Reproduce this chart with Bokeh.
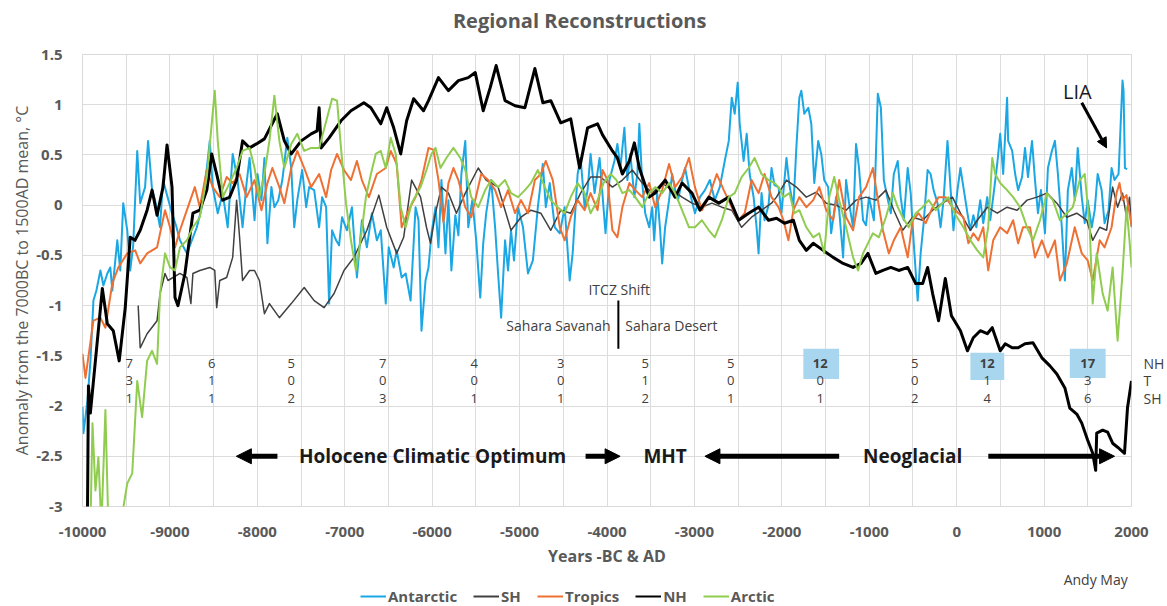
from bokeh.plotting import figure
from bokeh.layouts import column
from bokeh.models import (Range1d, FixedTicker, Label, Arrow, NormalHead, BoxAnnotation,
                          Legend, LegendItem, LinearAxis)
from bokeh.embed import file_html
from bokeh.resources import INLINE

# ---------------- data ----------------
antarctic_x = [-10000, -9989, -9943, -9909, -9875, -9841, -9818, -9795, -9761, -9716, -9682, -9659, -9602, -9568,
               -9534, -9488, -9454, -9420, -9374, -9340, -9284, -9250, -9204, -9170, -9113, -9079, -9033, -8976,
               -8931, -8885, -8806, -8749, -8692, -8635, -8578, -8544, -8510, -8453, -8396, -8339, -8282, -8226,
               -8169, -8123, -8089, -8032, -7998, -7953, -7919, -7885, -7839, -7805, -7760, -7714, -7657, -7612,
               -7578, -7543, -7487, -7441, -7407, -7350, -7293, -7259, -7213, -7179, -7145, -7099, -7065, -7031,
               -6975, -6918, -6861, -6804, -6747, -6690, -6633, -6588, -6531, -6497, -6440, -6406, -6349, -6303,
               -6247, -6190, -6156, -6122, -6076, -6042, -6008, -5962, -5928, -5894, -5848, -5814, -5780, -5735,
               -5700, -5666, -5621, -5587, -5541, -5496, -5450, -5416, -5382, -5325, -5280, -5246, -5211, -5166,
               -5132, -5098, -5064, -5018, -4961, -4904, -4848, -4791, -4734, -4700, -4655, -4597, -4540, -4484,
               -4427, -4393, -4336, -4302, -4256, -4222, -4188, -4142, -4085, -4051, -4017, -3972, -3915, -3881,
               -3847, -3801, -3767, -3733, -3687, -3653, -3630, -3597, -3563, -3517, -3483, -3460, -3426, -3392,
               -3369, -3335, -3290, -3255, -3221, -3187, -3141, -3107, -3051, -2994, -2937, -2880, -2823, -2767,
               -2710, -2653, -2607, -2573, -2539, -2505, -2482, -2437, -2402, -2368, -2323, -2289, -2266, -2232,
               -2198, -2152, -2118, -2084, -2038, -2004, -1947, -1913, -1868, -1834, -1800, -1777, -1743, -1697,
               -1663, -1629, -1584, -1549, -1515, -1470, -1436, -1379, -1344, -1299, -1265, -1231, -1185, -1151,
               -1117, -1071, -1037, -1003, -947, -902, -867, -833, -787, -753, -719, -674, -640, -605, -560, -526,
               -491, -446, -412, -378, -332, -298, -264, -219, -184, -150, -105, -71, -37, 9, 43, 77, 123, 157, 191,
               225, 270, 304, 350, 384, 418, 464, 498, 532, 577, 589, 635, 669, 703, 748, 782, 816, 862, 896, 930,
               964, 1010, 1044, 1089, 1124, 1158, 1203, 1238, 1272, 1317, 1351, 1385, 1431, 1465, 1499, 1545, 1579,
               1613, 1658, 1692, 1738, 1772, 1806, 1852, 1897, 1909, 1925, 1950]
antarctic_y = [-2.01, -2.27, -1.94, -1.55, -0.95, -0.85, -0.75, -0.65, -0.80, -0.68, -0.62, -0.85, -0.35, -0.65,
               0.02, -0.25, -0.65, -0.40, 0.54, 0.02, 0.18, 0.64, 0.15, 0.05, -0.22, 0.25, 0.10, -0.08,
               -0.20, -0.35, -0.48, -0.35, -0.22, -0.02, 0.37, 0.64, 0.18, -0.08, 0.12, -0.22, 0.51, 0.25,
               -0.22, 0.22, 0.47, -0.15, 0.31, 0.05, 0.47, -0.38, 0.18, -0.02, 0.05, 0.25, 0.67, 0.37,
               -0.22, 0.05, 0.35, -0.02, 0.18, 0.15, -0.22, 0.08, -0.02, -0.98, -0.25, -0.35, -0.40, -0.12,
               -0.25, -0.02, -0.72, -0.15, -0.42, -0.08, -0.35, -0.25, -0.98, -0.42, -0.62, -0.45, -0.72, -0.68,
               -0.95, -0.02, -0.15, -1.25, -0.75, -0.62, -0.28, -0.02, -0.42, 0.25, -0.48, 0.05, -0.65, -0.10,
               -0.30, 0.31, 0.64, -0.22, 0.05, -0.35, -0.92, -0.38, -0.08, 0.25, -0.22, -0.68, -1.12, -0.35,
               -0.65, -0.25, -0.55, -0.02, -0.22, -0.68, -0.55, -0.02, 0.41, -0.02, 0.22, -0.22, -0.28, -0.02,
               -0.75, -0.48, 0.31, 0.47, -0.02, 0.15, 0.51, 0.12, 0.47, 0.10, -0.28, 0.25, 0.44, 0.61,
               0.37, 0.77, 0.25, 0.51, 0.08, 0.31, 0.81, 0.22, -0.08, -0.22, -0.02, -0.35, 0.12, -0.25,
               -0.58, -0.22, 0.05, 0.31, 0.15, 0.05, 0.25, 0.37, 0.12, -0.08, 0.08, 0.15, 0.25, 0.05,
               0.18, 0.44, 0.64, 1.07, 0.91, 1.22, 0.81, 0.44, 0.71, 0.31, 0.08, -0.22, -0.48, 0.12,
               -0.15, 0.00, 0.37, 0.20, 0.18, -0.08, 0.47, 0.20, -0.02, 0.57, 1.07, 1.14, 0.91, 0.97,
               0.81, 0.22, 0.64, 0.51, 0.25, 0.18, -0.28, 0.08, -0.05, -0.52, 0.25, 0.02, -0.22, 0.61,
               0.37, -0.15, -0.20, 0.08, -0.15, 1.11, 0.97, 0.25, 0.05, -0.08, 0.31, 0.44, 0.08, -0.15, 0.37, 0.12,
               -0.38, -0.95, -0.48, -0.18, 0.35, 0.31, 0.15, 0.02, -0.22, 0.05, 0.64, 0.18, -0.25, 0.15, 0.37, 0.18,
               -0.08, -0.25, -0.10, -0.22, 0.05, -0.18, 0.08, -0.15, 0.08, 0.41, 0.71, 0.31, 1.07, 0.64, 0.54, 0.31,
               0.15, 0.28, 0.57, 0.28, 0.64, 0.25, -0.08, 0.15, -0.28, 0.37, 0.54, 0.64, 0.31, -0.22, -0.75, 0.15,
               0.37, 0.05, 0.57, 0.08, -0.18, 0.05, -0.22, -0.05, 0.31, 0.15, -0.18, -0.05, 0.37, 0.25, 0.31, 1.24,
               1.14, 0.37, 0.36]

sh_x = [-9363, -9340, -9261, -9147, -9113, -9056, -9022, -8885, -8806, -8760, -8737, -8658, -8544, -8487, -8465,
        -8430, -8351, -8282, -8237, -8203, -8169, -8089, -8032, -7976, -7919, -7862, -7748, -7612, -7464, -7350,
        -7236, -7122, -7009, -6895, -6747, -6610, -6520, -6406, -6326, -6235, -6133, -6065, -6019, -5962, -5894,
        -5814, -5723, -5621, -5473, -5382, -5246, -5098, -4984, -4870, -4757, -4643, -4529, -4415, -4302, -4188,
        -4074, -3938, -3824, -3710, -3597, -3483, -3369, -3255, -3141, -3028, -2914, -2800, -2687, -2573, -2460,
        -2346, -2232, -2118, -2061, -1947, -1834, -1720, -1606, -1492, -1379, -1265, -1151, -1037, -924, -810,
        -719, -617, -503, -389, -275, -162, -48, 43, 157, 236, 350, 464, 577, 691, 805, 919, 1033, 1146, 1260,
        1374, 1488, 1556, 1636, 1715, 1784, 1841, 1897, 1943, 1977, 2000]
sh_y = [-1.00, -1.42, -1.28, -1.15, -0.88, -0.68, -0.75, -0.68, -0.72, -0.98, -0.68, -0.65, -0.62, -0.65, -1.02,
        -0.75, -0.72, -0.52, 0.05, -0.32, -0.75, -0.65, -0.65, -0.75, -1.08, -0.98, -1.12, -0.98, -0.82, -0.95,
        -1.02, -0.88, -0.65, -0.52, -0.25, 0.10, -0.22, -0.48, -0.32, 0.25, 0.08, -0.22, -0.38, -0.08, 0.18,
        0.12, -0.08, 0.12, 0.37, 0.25, 0.18, -0.25, -0.12, -0.05, -0.08, -0.25, -0.05, -0.08, 0.12, 0.28,
        0.28, 0.18, 0.25, 0.35, 0.22, 0.12, 0.22, 0.15, 0.08, 0.02, -0.02, 0.02, -0.02, -0.05, -0.22,
        -0.12, -0.05, 0.02, 0.08, 0.25, 0.18, 0.08, 0.13, 0.02, 0.00, -0.05, 0.05, 0.08, 0.05, 0.15,
        -0.05, -0.25, -0.12, -0.15, -0.05, 0.02, 0.08, -0.08, -0.25, -0.15, -0.02, -0.08, -0.02, -0.05, 0.05,
        0.08, 0.12, 0.02, -0.12, -0.08, -0.15, -0.35, -0.22, -0.25, 0.18, -0.02, 0.12, -0.12, 0.08, -0.22]

tropics_x = [-10000, -9966, -9875, -9795, -9738, -9659, -9590, -9488, -9397, -9340, -9261, -9147, -9056, -8999,
             -8942, -8885, -8806, -8715, -8658, -8578, -8510, -8430, -8351, -8282, -8203, -8123, -8032, -7953,
             -7885, -7828, -7748, -7691, -7612, -7543, -7464, -7384, -7293, -7213, -7156, -7088, -7009, -6929,
             -6861, -6804, -6724, -6633, -6531, -6474, -6406, -6349, -6269, -6190, -6122, -6042, -5985, -5928,
             -5871, -5814, -5757, -5700, -5621, -5553, -5439, -5359, -5280, -5212, -5132, -5052, -4984, -4904,
             -4825, -4757, -4700, -4620, -4540, -4484, -4415, -4336, -4256, -4188, -4108, -4051, -3995, -3938,
             -3881, -3824, -3744, -3676, -3597, -3517, -3449, -3369, -3290, -3221, -3141, -3062, -2994, -2914,
             -2835, -2744, -2664, -2573, -2494, -2425, -2346, -2266, -2198, -2118, -2038, -1981, -1925, -1868,
             -1800, -1720, -1641, -1572, -1492, -1413, -1344, -1265, -1185, -1117, -1037, -958, -901, -844, -776,
             -719, -640, -560, -503, -435, -355, -275, -207, -128, -48, 20, 77, 134, 191, 248, 304, 361, 418, 498,
             577, 646, 703, 759, 839, 896, 975, 1044, 1124, 1181, 1260, 1351, 1431, 1499, 1556, 1636, 1692, 1772,
             1829, 1863, 1897, 1943, 1977, 2000]
tropics_y = [-1.48, -1.72, -1.15, -1.12, -1.22, -0.78, -0.62, -0.48, -0.45, -0.58, -0.48, -0.42, -0.05, -0.22,
             -0.42, -0.25, -0.05, 0.18, -0.02, 0.35, 0.18, 0.08, 0.28, 0.22, 0.31, 0.08, 0.25, -0.05,
             0.22, 0.37, 0.18, 0.02, 0.37, 0.54, 0.37, 0.18, 0.31, 0.08, 0.35, 0.51, 0.35, 0.25,
             0.44, 0.25, 0.08, 0.31, 0.37, 0.54, 0.41, -0.22, -0.05, 0.08, 0.25, 0.57, 0.55, 0.25,
             -0.17, 0.22, 0.37, 0.25, -0.02, -0.12, 0.31, 0.25, 0.15, -0.02, 0.15, -0.08, 0.05, -0.08,
             0.25, 0.31, 0.44, 0.25, -0.22, -0.35, -0.12, 0.05, -0.05, 0.12, -0.05, 0.35, 0.25, -0.25,
             -0.32, -0.02, 0.22, 0.15, 0.08, 0.22, -0.02, 0.15, 0.41, 0.18, 0.28, 0.47, 0.18, -0.05,
             0.08, 0.31, 0.15, -0.02, -0.15, -0.08, 0.25, 0.12, 0.31, 0.08, -0.02, -0.15, -0.35, -0.05,
             0.08, -0.02, 0.05, 0.18, -0.05, -0.15, 0.25, -0.12, -0.25, 0.08, 0.18, 0.37, 0.05, -0.25, -0.48,
             -0.35, -0.22, -0.52, -0.15, -0.08, -0.18, -0.02, 0.08, 0.08, -0.02, -0.08, -0.12, -0.38, -0.28, -0.35,
             -0.22, -0.65, -0.35, -0.22, -0.28, -0.15, -0.38, -0.22, -0.22, -0.52, -0.35, -0.52, -0.35, -0.75,
             -0.58, -0.22, -0.48, -0.55, -0.75, -0.35, -0.42, -0.22, 0.12, 0.22, 0.05, 0.10, -0.08, -0.20]

nh_x = [-9945, -9932, -9910, -9773, -9716, -9648, -9580, -9511, -9454, -9400, -9340, -9261, -9204, -9147, -9079,
        -9033, -8976, -8942, -8908, -8828, -8737, -8658, -8578, -8522, -8465, -8396, -8317, -8237, -8169, -8089,
        -8010, -7919, -7771, -7691, -7612, -7498, -7384, -7316, -7293, -7270, -7179, -7043, -6929, -6781, -6701,
        -6588, -6520, -6440, -6360, -6292, -6212, -6099, -6042, -5928, -5814, -5700, -5587, -5507, -5416, -5336,
        -5268, -5166, -5052, -4939, -4825, -4734, -4643, -4529, -4415, -4313, -4222, -4108, -4051, -3938, -3881,
        -3824, -3744, -3687, -3630, -3517, -3449, -3335, -3221, -3141, -3028, -2937, -2835, -2721, -2607, -2494,
        -2380, -2266, -2152, -2061, -1970, -1868, -1800, -1720, -1641, -1527, -1413, -1299, -1185, -1094, -1015,
        -924, -844, -753, -662, -560, -469, -389, -332, -275, -207, -130, -60, 43, 123, 190, 270, 350, 407, 498,
        555, 635, 703, 782, 873, 975, 1067, 1146, 1238, 1294, 1374, 1431, 1499, 1556, 1590, 1602, 1670, 1727,
        1784, 1841, 1920, 1954, 2000]
nh_y = [-3.30, -1.80, -2.07, -0.83, -1.18, -1.25, -1.55, -1.02, -0.32, -0.35, -0.25, -0.05, 0.15, -0.10, 0.18,
        0.60, 0.18, -0.92, -1.00, -0.68, -0.08, -0.05, 0.15, 0.51, 0.31, 0.05, 0.08, 0.25, 0.64, 0.57,
        0.61, 0.66, 0.91, 0.64, 0.51, 0.64, 0.71, 0.74, 0.97, 0.57, 0.67, 0.84, 0.94, 1.02, 0.97,
        0.81, 0.97, 0.77, 0.51, 0.84, 1.06, 0.94, 1.04, 1.27, 1.14, 1.24, 1.27, 1.32, 0.94, 1.17,
        1.39, 1.04, 0.99, 0.97, 1.36, 1.02, 1.04, 0.82, 0.86, 0.37, 0.77, 0.81, 0.70, 0.54, 0.47,
        0.31, 0.44, 0.62, 0.37, 0.08, 0.12, 0.25, 0.08, 0.22, 0.12, -0.05, 0.08, 0.02, 0.08, -0.15,
        -0.08, -0.02, -0.15, -0.13, -0.18, -0.15, -0.35, -0.45, -0.38, -0.45, -0.52, -0.58, -0.62, -0.58, -0.48,
        -0.68, -0.65, -0.62, -0.65, -0.62, -0.78, -0.78, -0.62, -0.88, -1.15, -0.73, -1.10, -1.25, -1.45, -1.32,
        -1.25, -1.28, -1.22, -1.45, -1.38, -1.42, -1.42, -1.38, -1.37, -1.52, -1.60, -1.68, -1.82, -2.02, -2.08,
        -2.17, -2.34, -2.47, -2.64, -2.27, -2.24, -2.26, -2.37, -2.41, -2.47, -2.02, -1.75]

arctic_x = [-9909, -9886, -9852, -9818, -9784, -9738, -9704, -9568, -9488, -9431, -9374, -9318, -9261, -9204, -9147,
            -9113, -9056, -8999, -8942, -8885, -8806, -8737, -8658, -8578, -8522, -8487, -8453, -8396, -8317, -8237,
            -8169, -8089, -8032, -7976, -7919, -7862, -7805, -7748, -7691, -7612, -7543, -7464, -7384, -7293, -7202,
            -7145, -7088, -7043, -6986, -6929, -6872, -6815, -6758, -6701, -6645, -6588, -6531, -6474, -6417, -6360,
            -6303, -6235, -6133, -6065, -6008, -5962, -5905, -5837, -5757, -5678, -5621, -5553, -5473, -5393, -5325,
            -5246, -5166, -5098, -5018, -4939, -4870, -4791, -4711, -4643, -4563, -4484, -4415, -4336, -4256, -4188,
            -4108, -4040, -3960, -3892, -3824, -3744, -3676, -3597, -3517, -3449, -3369, -3290, -3221, -3141, -3062,
            -2994, -2914, -2835, -2767, -2687, -2607, -2539, -2460, -2380, -2312, -2232, -2152, -2084, -2038, -1981,
            -1913, -1857, -1800, -1720, -1641, -1572, -1515, -1458, -1401, -1344, -1265, -1185, -1128, -1071, -1015,
            -958, -890, -810, -730, -674, -617, -549, -469, -389, -321, -241, -162, -94, -25, 77, 157, 236, 304,
            361, 407, 441, 498, 577, 646, 725, 805, 873, 953, 1033, 1101, 1181, 1260, 1328, 1408, 1465, 1522, 1556,
            1602, 1670, 1727, 1784, 1841, 1897, 1943, 1977, 2000]
arctic_y = [-3.20, -2.17, -2.84, -2.51, -3.20, -2.04, -3.20, -3.20, -2.77, -2.67, -1.75, -2.11, -1.55, -1.45, -1.58,
            -0.88, -0.48, -0.62, -0.65, -0.42, -0.35, -0.22, -0.12, 0.28, 0.81, 1.14, 0.64, 0.08, 0.22, 0.37,
            0.54, 0.57, 0.37, 0.08, 0.31, 0.64, 1.09, 0.64, 0.37, 0.61, 0.71, 0.54, 0.57, 0.57, 0.87,
            1.06, 1.04, 0.57, 0.02, -0.35, -0.65, -0.32, 0.08, 0.31, 0.51, 0.54, 0.37, 0.67, 0.51, -0.02,
            -0.22, 0.02, 0.18, 0.35, 0.51, 0.57, 0.37, 0.47, 0.57, 0.47, 0.35, 0.08, -0.02, 0.15, 0.25,
            0.18, 0.25, 0.12, 0.08, 0.15, 0.22, 0.35, 0.18, 0.05, -0.02, -0.08, 0.08, 0.22, 0.12, -0.08,
            0.05, 0.22, 0.31, 0.25, 0.12, 0.15, 0.08, -0.02, 0.12, 0.18, 0.12, 0.22, 0.12, -0.05, -0.22,
            -0.22, -0.15, -0.25, -0.32, -0.15, 0.08, 0.12, 0.28, 0.37, 0.47, 0.31, 0.25, 0.22, 0.18, 0.08,
            0.12, -0.08, -0.05, -0.22, -0.32, -0.28, -0.48, 0.08, 0.28, 0.05, -0.22, -0.52, -0.65, -0.48, -0.38,
            -0.28, -0.32, -0.12, 0.12, -0.02, -0.12, -0.22, -0.08, -0.02, 0.05, -0.05, 0.02, 0.08, -0.08, -0.22,
            -0.35, -0.45, -0.52, -0.22, 0.47, 0.31, 0.22, 0.15, 0.08, -0.02, -0.22, -0.35, -0.15, 0.12, 0.05,
            -0.15, -0.08, -0.02, 0.25, 0.31, -0.22, -0.98, -0.48, -0.88, -1.05, -0.62, -1.35, -0.68, -0.02, -0.35,
            -0.62]

series_names = ["Antarctic", "SH", "Tropics", "NH", "Arctic"]
series_colors = ["#1aa7e4", "#404040", "#ee7033", "#000000", "#8fcc4f"]
series_widths = [2, 1.5, 2, 3, 2]

x_ticks = [-10000, -9000, -8000, -7000, -6000, -5000, -4000, -3000, -2000, -1000, 0, 1000, 2000]
y_ticks = [-3, -2.5, -2, -1.5, -1, -0.5, 0, 0.5, 1, 1.5]
y_tick_labels = ["-3", "-2.5", "-2", "-1.5", "-1", "-0.5", "0", "0.5", "1", "1.5"]

# proxy counts per period: NH / Tropics / SH
count_x = [-9465, -8521, -7612, -6565, -5519, -4529, -3562, -2584, -1561, -480, 350, 1499]
count_nh = ["7", "6", "5", "7", "4", "3", "5", "5", "12", "5", "12", "17"]
count_t = ["3", "1", "0", "0", "0", "0", "1", "0", "0", "0", "1", "3"]
count_sh = ["1", "1", "2", "3", "1", "1", "2", "1", "1", "2", "4", "6"]
count_hi = [False, False, False, False, False, False, False, False, True, False, True, True]
row_y = [-1.58, -1.75, -1.92]
row_names = ["NH", "T", "SH"]

FONT = "Open Sans"
GRAY = "#595959"
TXT = "#404040"


def strip(height):
    # a text-only band whose frame lines up with the chart frame (x = page pixels 82..1137)
    s = figure(width=1167, height=height, x_range=Range1d(82, 1137), y_range=Range1d(0, height),
               output_backend="svg", toolbar_location=None, x_axis_type=None, y_axis_type=None,
               title=None, min_border_left=0, min_border_right=0, min_border_top=0, min_border_bottom=0)
    s.outline_line_color = None
    s.xgrid.visible = False
    s.ygrid.visible = False
    return s


# ---------------- title band ----------------
top = strip(40)
top.add_layout(Label(x=582, y=20, text="Regional Reconstructions", text_align="center",
                     text_baseline="middle", text_font=FONT, text_font_size="20px",
                     text_font_style="bold", text_color=GRAY))

# ---------------- main chart ----------------
p = figure(width=1167, height=530, x_range=Range1d(-10000, 2000), y_range=Range1d(-3, 1.5),
           output_backend="svg", toolbar_location=None, title=None,
           min_border_left=82, min_border_right=30, min_border_top=14, min_border_bottom=64)
p.background_fill_color = "white"
p.border_fill_color = "white"
p.outline_line_color = "#d9d9d9"

p.xgrid.ticker = FixedTicker(ticks=list(range(-10000, 2001, 500)))
p.ygrid.ticker = FixedTicker(ticks=y_ticks)
p.xgrid.grid_line_color = "#dcdcdc"
p.ygrid.grid_line_color = "#dcdcdc"

p.xaxis.ticker = FixedTicker(ticks=x_ticks)
p.xaxis.major_label_overrides = {t: str(t) for t in x_ticks}
p.yaxis.ticker = FixedTicker(ticks=y_ticks)
p.yaxis.major_label_overrides = dict(zip(y_ticks, y_tick_labels))
for ax in (p.xaxis[0], p.yaxis[0]):
    ax.axis_line_color = None
    ax.major_tick_line_color = None
    ax.minor_tick_line_color = None
    ax.major_label_text_font = FONT
    ax.major_label_text_font_style = "bold"
    ax.major_label_text_font_size = "15px"
    ax.major_label_text_color = GRAY
    ax.axis_label_text_font = FONT
    ax.axis_label_text_color = GRAY
p.xaxis.major_label_standoff = 14
p.yaxis.major_label_standoff = 14
p.xaxis.axis_label = "Years -BC & AD"
p.xaxis.axis_label_text_font_style = "bold"
p.xaxis.axis_label_text_font_size = "16px"
p.xaxis.axis_label_standoff = 5
p.yaxis.axis_label = "Anomaly from the 7000BC to 1500AD mean, °C"
p.yaxis.axis_label_text_font_style = "normal"
p.yaxis.axis_label_text_font_size = "16px"
p.yaxis.axis_label_standoff = 0

# right-hand row names for the proxy counts
row_axis = LinearAxis(ticker=FixedTicker(ticks=row_y),
                      major_label_overrides=dict(zip(row_y, row_names)),
                      axis_line_color=None, major_tick_line_color=None, minor_tick_line_color=None,
                      major_label_standoff=6, major_label_text_font=FONT,
                      major_label_text_font_size="14px", major_label_text_color=TXT)
p.add_layout(row_axis, "right")

all_x = [antarctic_x, sh_x, tropics_x, nh_x, arctic_x]
all_y = [antarctic_y, sh_y, tropics_y, nh_y, arctic_y]
for xs, ys, c, w in zip(all_x, all_y, series_colors, series_widths):
    p.line(xs, ys, line_color=c, line_width=w, line_join="round")

# proxy count boxes
boxes = [(-1754, -1345, -1.43, -1.73), (157, 544, -1.47, -1.74), (1294, 1704, -1.43, -1.72)]
for l, r, t, b in boxes:
    p.add_layout(BoxAnnotation(left=l, right=r, top=t, bottom=b, fill_color="#a9d6ef",
                               fill_alpha=1, line_color=None, level="underlay"))

for cx, a, b, c, hi in zip(count_x, count_nh, count_t, count_sh, count_hi):
    for txt, yy, bold in ((a, row_y[0], hi), (b, row_y[1], False), (c, row_y[2], False)):
        p.add_layout(Label(x=cx, y=yy, text=txt, text_align="center", text_baseline="middle",
                           text_font=FONT, text_font_size="13px", text_color=TXT,
                           text_font_style="bold" if bold else "normal"))

# ITCZ shift annotation
p.add_layout(Label(x=-3860, y=-0.84, text="ITCZ Shift", text_align="center", text_baseline="middle",
                   text_font=FONT, text_font_size="14px", text_color=TXT))
p.add_layout(Label(x=-3960, y=-1.20, text="Sahara Savanah", text_align="right", text_baseline="middle",
                   text_font=FONT, text_font_size="14px", text_color=TXT))
p.add_layout(Label(x=-3790, y=-1.20, text="Sahara Desert", text_align="left", text_baseline="middle",
                   text_font=FONT, text_font_size="14px", text_color=TXT))
p.segment(x0=[-3870], y0=[-0.95], x1=[-3870], y1=[-1.43], line_color="black", line_width=2)

# period arrows and labels
def arrow(x0, x1, y, lw=5, size=15):
    p.add_layout(Arrow(x_start=x0, y_start=y, x_end=x1, y_end=y, line_width=lw, line_color="black",
                       end=NormalHead(size=size, fill_color="black", line_color="black", line_width=1),
                       start=None))

arrow(-7770, -8240, -2.5)
arrow(-4245, -3850, -2.5)
arrow(-1344, -2880, -2.5)
arrow(362, 1806, -2.5)
for tx, txt in ((-5996, "Holocene Climatic Optimum"), (-3335, "MHT"), (-503, "Neoglacial")):
    p.add_layout(Label(x=tx, y=-2.5, text=txt, text_align="center", text_baseline="middle",
                       text_font=FONT, text_font_size="19px", text_font_style="bold", text_color="#1a1a1a"))

# LIA
p.add_layout(Label(x=1380, y=1.13, text="LIA", text_align="center", text_baseline="middle",
                   text_font=FONT, text_font_size="20px", text_color="#1a1a1a"))
p.add_layout(Arrow(x_start=1431, y_start=1.02, x_end=1715, y_end=0.57, line_width=3, line_color="black",
                   end=NormalHead(size=10, fill_color="black", line_color="black"), start=None))

# ---------------- legend band with the credit ----------------
leg = strip(36)
nan = float("nan")
proxies = [leg.line(x=[nan], y=[nan], line_color=c, line_width=2) for c in series_colors]
legend = Legend(items=[LegendItem(label=n, renderers=[r]) for n, r in zip(series_names, proxies)],
                orientation="horizontal", location=(278, 0),
                label_text_font=FONT, label_text_font_style="bold", label_text_font_size="15px",
                label_text_color=GRAY, glyph_width=26, glyph_height=20, spacing=16,
                label_standoff=2, padding=0, margin=0, border_line_color=None,
                background_fill_alpha=0)
leg.add_layout(legend)
leg.add_layout(Label(x=1101, y=27, text="Andy May", text_align="center", text_baseline="middle",
                     text_font=FONT, text_font_size="14px", text_color=TXT))

open("out.html", "w").write(file_html(column(top, p, leg, spacing=0), INLINE))
